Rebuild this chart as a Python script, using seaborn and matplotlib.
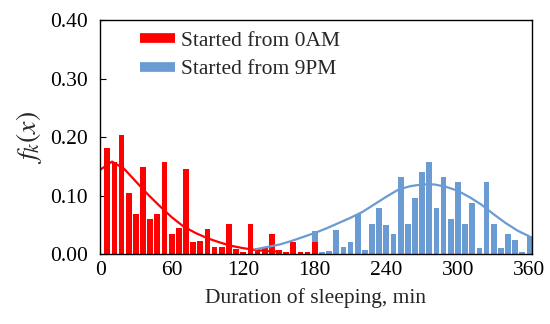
import numpy as np
import pandas as pd
import matplotlib
matplotlib.use('Agg')
import matplotlib.pyplot as plt
from matplotlib.lines import Line2D
import seaborn as sns

# bins of 6 min, bars drawn at the upper edge of each bin (6, 12, ..., 360)
bin_minutes = list(range(6, 361, 6))

red_freq = [0.182, 0.158, 0.203, 0.105, 0.069, 0.149, 0.060, 0.069, 0.157, 0.034,
            0.045, 0.146, 0.020, 0.023, 0.043, 0.012, 0.012, 0.051, 0.008, 0.003,
            0.051, 0.010, 0.012, 0.035, 0.007, 0.004, 0.020, 0.004, 0.004, 0.020,
            0, 0, 0, 0, 0, 0, 0, 0, 0, 0,
            0, 0, 0, 0, 0, 0, 0, 0, 0, 0,
            0, 0, 0, 0, 0, 0, 0, 0, 0, 0]

blue_freq = [0, 0, 0, 0.003, 0, 0, 0, 0, 0, 0.003,
             0, 0.003, 0, 0, 0.006, 0, 0, 0, 0, 0.004,
             0, 0, 0, 0, 0, 0, 0, 0, 0.003, 0.039,
             0.004, 0.006, 0.041, 0.012, 0.020, 0.068, 0.007, 0.051, 0.078, 0.050,
             0.034, 0.131, 0.051, 0.096, 0.140, 0.158, 0.078, 0.131, 0.060, 0.123,
             0.051, 0.087, 0.011, 0.123, 0.051, 0.010, 0.035, 0.024, 0.003, 0.031]

# fitted density curves
red_curve_x = [0, 10, 20, 30, 40, 50, 60, 70, 80, 90, 100, 110, 120, 130, 140, 150]
red_curve_y = [0.144, 0.158, 0.146, 0.124, 0.102, 0.082, 0.063, 0.047, 0.036, 0.027,
               0.020, 0.014, 0.010, 0.007, 0.005, 0.004]

blue_curve_x = [130, 140, 150, 160, 170, 180, 190, 200, 210, 220, 230, 240, 250,
                260, 270, 280, 290, 300, 310, 320, 330, 340, 350, 360]
blue_curve_y = [0.008, 0.012, 0.016, 0.022, 0.029, 0.036, 0.044, 0.053, 0.062, 0.072,
                0.085, 0.098, 0.110, 0.116, 0.119, 0.119, 0.115, 0.108, 0.097, 0.084,
                0.068, 0.053, 0.040, 0.030]

x_ticks = [0, 60, 120, 180, 240, 300, 360]
y_ticks = [0.0, 0.1, 0.2, 0.3, 0.4]

red = '#FF0000'
blue = '#6A9BD2'
fs = 15.5

sns.set_style('ticks')
plt.rcParams['font.family'] = ['Liberation Serif', 'DejaVu Serif']
plt.rcParams['mathtext.fontset'] = 'stix'

fig = plt.figure(figsize=(5.5, 3.24), dpi=100)
ax = fig.add_axes([0.182, 0.216, 0.785, 0.722])

sns.barplot(x=bin_minutes, y=blue_freq, native_scale=True, color=blue,
            width=0.8, saturation=1, linewidth=0, ax=ax)
sns.barplot(x=bin_minutes, y=red_freq, native_scale=True, color=red,
            width=0.8, saturation=1, linewidth=0, ax=ax)
sns.lineplot(x=red_curve_x, y=red_curve_y, color=red, linewidth=1.6, ax=ax)
sns.lineplot(x=blue_curve_x, y=blue_curve_y, color=blue, linewidth=1.6, ax=ax)

ax.set_xlim(0, 362)
ax.set_ylim(0, 0.4)
ax.set_xticks(x_ticks)
ax.set_yticks(y_ticks)
ax.set_yticklabels([f'{v:.2f}' for v in y_ticks])
ax.tick_params(axis='both', direction='in', length=4, labelsize=fs, colors='black')
ax.tick_params(axis='y', pad=9)
ax.tick_params(axis='x', length=0, pad=5)
for s in ax.spines.values():
    s.set_color('black')
    s.set_linewidth(1)

ax.set_xlabel('Duration of sleeping, min', fontsize=fs, labelpad=6)
ax.set_ylabel('$f_k(x)$', fontsize=20, labelpad=4)

handles = [Line2D([0], [0], color=red, linewidth=7, solid_capstyle='butt'),
           Line2D([0], [0], color=blue, linewidth=7, solid_capstyle='butt')]
ax.legend(handles, ['Started from 0AM', 'Started from 9PM'], loc='upper left',
          bbox_to_anchor=(0.093, 0.955), frameon=False, fontsize=fs,
          borderpad=0, borderaxespad=0,
          handlelength=1.63, handletextpad=0.25, labelspacing=0.4)

fig.savefig('out.png', dpi=100)
